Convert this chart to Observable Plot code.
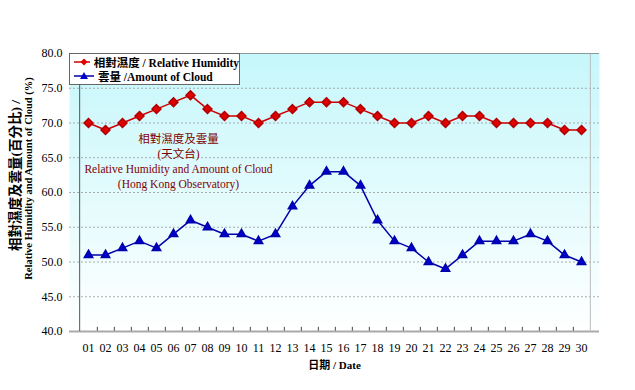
<!DOCTYPE html>
<html><head><meta charset="utf-8">
<script src="https://cdn.jsdelivr.net/npm/d3@7"></script>
<script src="https://cdn.jsdelivr.net/npm/@observablehq/plot@0.6"></script>
<style>
body{margin:0;background:#fff;}
#wrap{position:relative;width:635px;height:390px;}
#legend{position:absolute;left:69px;top:53px;width:171px;height:32px;background:#fff;border:1px solid #666;box-sizing:border-box;font-family:"Liberation Serif","DejaVu Serif","Noto Sans CJK TC",serif;font-weight:bold;font-size:11.5px;color:#000;padding-top:1px;}
#legend div{display:flex;align-items:center;height:14px;margin-left:4px;white-space:nowrap;}
#legend svg{margin-right:4px;}
</style></head><body>
<div id="wrap"></div>
<script>
const dates = ["01","02","03","04","05","06","07","08","09","10","11","12","13","14","15","16","17","18","19","20","21","22","23","24","25","26","27","28","29","30"];
const humidity = [70,69,70,71,72,73,74,72,71,71,70,71,72,73,73,73,72,71,70,70,71,70,71,71,70,70,70,70,69,69];
const cloud = [51,51,52,53,52,54,56,55,54,54,53,54,58,61,63,63,61,56,53,52,50,49,51,53,53,53,54,53,51,50];
const yTicks = [40,45,50,55,60,65,70,75,80];
const seriesNames = ["相對濕度 / Relative Humidity", "雲量 /Amount of Cloud"];
const seriesColors = ["#cc0000","#0000aa"];
const noteLines = ["相對濕度及雲量", "(天文台)", "Relative Humidity and Amount of Cloud", "(Hong Kong Observatory)"];
const yTitle = ["相對濕度及雲量(百分比) /", "Relative Humidity and Amount of Cloud (%)"];
const xTitle = "日期 / Date";

const rh = dates.map((d,i)=>({date:d, v:humidity[i]}));
const cl = dates.map((d,i)=>({date:d, v:cloud[i]}));
const W=635,H=390,ml=69,mr=36,mt=53,mb=59;
const step=(W-ml-mr)/dates.length;
const serif='"Liberation Serif","DejaVu Serif","Noto Sans CJK TC",serif';

const plot = Plot.plot({
  width:W,height:H,marginLeft:ml,marginRight:mr,marginTop:mt,marginBottom:mb,
  style:{fontFamily:serif,fontSize:"12px",background:"transparent",color:"#000"},
  x:{type:"point",domain:dates,padding:0.5,label:null,tickSize:0,tickPadding:12},
  y:{domain:[40,80],ticks:yTicks,tickFormat:d3.format(".1f"),label:null,tickSize:0,tickPadding:7},
  marks:[
    Plot.frame({fill:"url(#bggrad)"}),
    Plot.gridY(yTicks.slice(1,-1),{stroke:"#999",strokeOpacity:0.8,strokeDasharray:"2,2"}),
    Plot.ruleX(dates.slice(0,-1),{x:d=>d,dx:step/2,y1:40,y2:40.6,stroke:"#444"}),
    Plot.ruleY([40],{stroke:"#aaa",strokeWidth:2}),
    Plot.ruleX([dates[0]],{dx:-step/2,stroke:"#555"}),
    Plot.ruleX([dates[dates.length-1]],{dx:step/2,stroke:"#bbb"}),
    Plot.ruleY([80],{stroke:"#8a9a9a"}),
    Plot.line(rh,{x:"date",y:"v",stroke:seriesColors[0],strokeWidth:1.5}),
    Plot.dot(rh,{x:"date",y:"v",symbol:"diamond2",fill:"#e00000",stroke:"#b00000",r:4}),
    Plot.line(cl,{x:"date",y:"v",stroke:seriesColors[1],strokeWidth:1.5}),
    Plot.dot(cl,{x:"date",y:"v",symbol:"triangle2",fill:"#0000cc",stroke:"#0000aa",r:4}),
    ...noteLines.map((t,i)=>Plot.text([t],{frameAnchor:"top-left",textAnchor:"middle",dx:109,dy:81+i*15,fill:"#800000",fontSize:11.5})),
    Plot.text([xTitle],{frameAnchor:"bottom",dy:37,fontSize:11,fontWeight:"bold"}),
    ...yTitle.map((t,i)=>Plot.text([t],{frameAnchor:"left",textAnchor:"middle",dx:-54+i*13,dy:i===0?-17:-14,rotate:-90,fontSize:i===0?13.5:10.5,fontWeight:"bold"}))
  ]
});
const svg = d3.select(plot);
svg.insert("defs",":first-child").html('<linearGradient id="bggrad" x1="0" y1="0" x2="0" y2="1"><stop offset="0" stop-color="#c6f7fb"/><stop offset="1" stop-color="#ffffff"/></linearGradient>');
const wrap=document.getElementById("wrap");
wrap.appendChild(plot);
const leg=document.createElement("div");leg.id="legend";
const syms=['<path d="M10,2.5L13.5,6L10,9.5L6.5,6Z" fill="#e00000"/>','<path d="M10,2L14,9L6,9Z" fill="#0000cc"/>'];
leg.innerHTML=seriesNames.map((n,i)=>`<div><svg width="20" height="12"><line x1="0" y1="6" x2="20" y2="6" stroke="${seriesColors[i]}" stroke-width="1.5"/>${syms[i]}</svg><span>${n}</span></div>`).join("");
wrap.appendChild(leg);
</script>
</body></html>
